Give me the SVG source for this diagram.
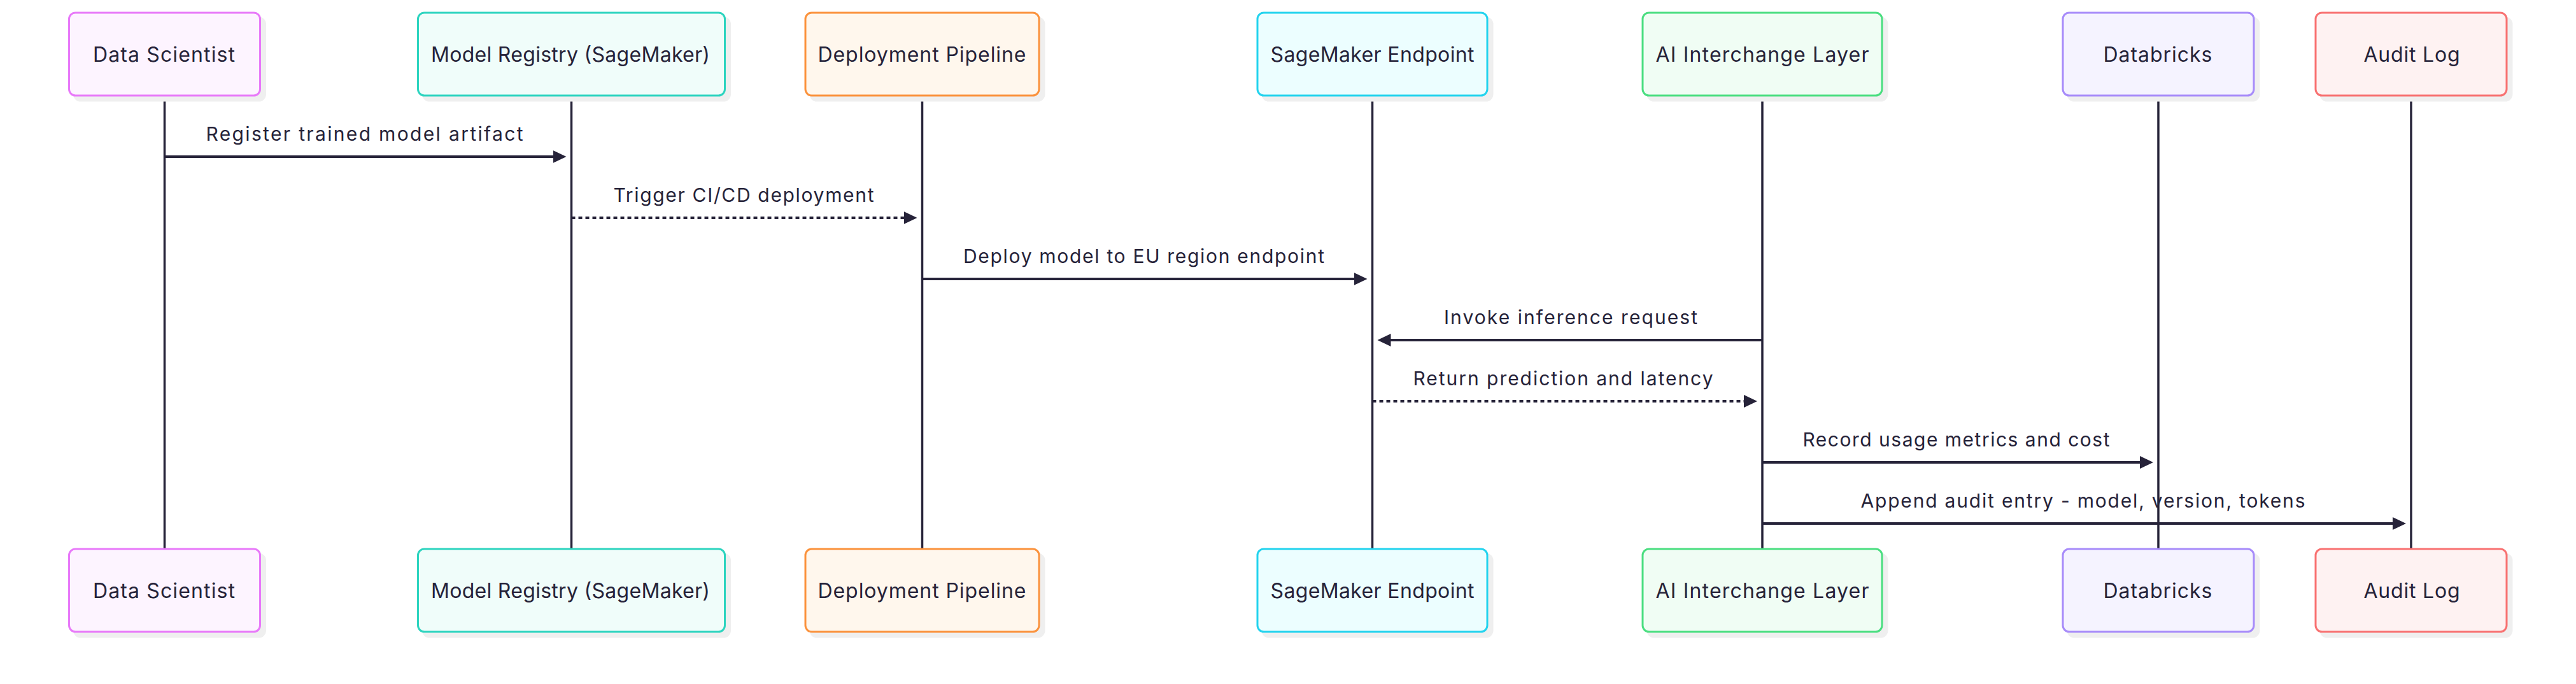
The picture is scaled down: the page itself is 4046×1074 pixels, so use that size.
<svg xmlns="http://www.w3.org/2000/svg" width="4046" height="1074" viewBox="0 0 4046 1074">
<style>
.bg{fill:#ffffff}
.shadow{fill:#efefef;stroke:#efefef;stroke-width:3}
.box{stroke-width:3}
.lbl{font-family:Inter,"Liberation Sans",sans-serif;font-size:32px;fill:#262339;text-anchor:middle}
.msg{font-family:Inter,"Liberation Sans",sans-serif;font-size:30px;fill:#262339;text-anchor:middle}
.life{stroke:#262339;stroke-width:3.5}
.arrow{stroke:#262339;stroke-width:4;fill:none;marker-end:url(#head)}
.dotted{stroke-dasharray:6 5}
.c1{fill:#fdf4ff;stroke:#e879f9}
.c2{fill:#f0fdfa;stroke:#2dd4bf}
.c3{fill:#fff7ed;stroke:#fb923c}
.c4{fill:#ecfeff;stroke:#22d3ee}
.c5{fill:#f0fdf4;stroke:#4ade80}
.c6{fill:#f5f3ff;stroke:#a78bfa}
.c7{fill:#fef2f2;stroke:#f87171}
</style>
<defs>
<marker id="head" markerUnits="userSpaceOnUse" markerWidth="22" markerHeight="22" refX="3" refY="10" orient="auto">
<path d="M0,0 L21,10 L0,20 z" fill="#262339"/>
</marker>
</defs>
<rect class="bg" x="0" y="0" width="4046" height="1074"/>
<g id="lifelines">
<line class="life" x1="258.5" y1="150" x2="258.5" y2="862"/>
<line class="life" x1="897.5" y1="150" x2="897.5" y2="862"/>
<line class="life" x1="1448.5" y1="150" x2="1448.5" y2="862"/>
<line class="life" x1="2155.5" y1="150" x2="2155.5" y2="862"/>
<line class="life" x1="2768" y1="150" x2="2768" y2="862"/>
<line class="life" x1="3390" y1="150" x2="3390" y2="862"/>
<line class="life" x1="3787" y1="150" x2="3787" y2="862"/>
</g>
<g id="node-data-scientist">
<rect class="shadow" x="116.5" y="28" width="300" height="130" rx="10"/>
<rect class="box c1" x="108.5" y="20" width="300" height="130" rx="10"/>
<text class="lbl" x="257.5" y="96.7" textLength="223">Data Scientist</text>
<rect class="shadow" x="116.5" y="870" width="300" height="130" rx="10"/>
<rect class="box c1" x="108.5" y="862" width="300" height="130" rx="10"/>
<text class="lbl" x="257.5" y="938.7" textLength="223">Data Scientist</text>
</g>
<g id="node-model-registry">
<rect class="shadow" x="664.5" y="28" width="482" height="130" rx="10"/>
<rect class="box c2" x="656.5" y="20" width="482" height="130" rx="10"/>
<text class="lbl" x="896" y="96.7" textLength="438">Model Registry (SageMaker)</text>
<rect class="shadow" x="664.5" y="870" width="482" height="130" rx="10"/>
<rect class="box c2" x="656.5" y="862" width="482" height="130" rx="10"/>
<text class="lbl" x="896" y="938.7" textLength="438">Model Registry (SageMaker)</text>
</g>
<g id="node-deployment-pipeline">
<rect class="shadow" x="1273" y="28" width="367" height="130" rx="10"/>
<rect class="box c3" x="1265" y="20" width="367" height="130" rx="10"/>
<text class="lbl" x="1448" y="96.7" textLength="327">Deployment Pipeline</text>
<rect class="shadow" x="1273" y="870" width="367" height="130" rx="10"/>
<rect class="box c3" x="1265" y="862" width="367" height="130" rx="10"/>
<text class="lbl" x="1448" y="938.7" textLength="327">Deployment Pipeline</text>
</g>
<g id="node-sagemaker-endpoint">
<rect class="shadow" x="1983" y="28" width="361" height="130" rx="10"/>
<rect class="box c4" x="1975" y="20" width="361" height="130" rx="10"/>
<text class="lbl" x="2155.5" y="96.7" textLength="320">SageMaker Endpoint</text>
<rect class="shadow" x="1983" y="870" width="361" height="130" rx="10"/>
<rect class="box c4" x="1975" y="862" width="361" height="130" rx="10"/>
<text class="lbl" x="2155.5" y="938.7" textLength="320">SageMaker Endpoint</text>
</g>
<g id="node-ai-interchange">
<rect class="shadow" x="2588" y="28" width="376" height="130" rx="10"/>
<rect class="box c5" x="2580" y="20" width="376" height="130" rx="10"/>
<text class="lbl" x="2768" y="96.7" textLength="335">AI Interchange Layer</text>
<rect class="shadow" x="2588" y="870" width="376" height="130" rx="10"/>
<rect class="box c5" x="2580" y="862" width="376" height="130" rx="10"/>
<text class="lbl" x="2768" y="938.7" textLength="335">AI Interchange Layer</text>
</g>
<g id="node-databricks">
<rect class="shadow" x="3248" y="28" width="300" height="130" rx="10"/>
<rect class="box c6" x="3240" y="20" width="300" height="130" rx="10"/>
<text class="lbl" x="3389" y="96.7" textLength="171">Databricks</text>
<rect class="shadow" x="3248" y="870" width="300" height="130" rx="10"/>
<rect class="box c6" x="3240" y="862" width="300" height="130" rx="10"/>
<text class="lbl" x="3389" y="938.7" textLength="171">Databricks</text>
</g>
<g id="node-audit-log">
<rect class="shadow" x="3645" y="28" width="300" height="130" rx="10"/>
<rect class="box c7" x="3637" y="20" width="300" height="130" rx="10"/>
<text class="lbl" x="3788" y="96.7" textLength="151">Audit Log</text>
<rect class="shadow" x="3645" y="870" width="300" height="130" rx="10"/>
<rect class="box c7" x="3637" y="862" width="300" height="130" rx="10"/>
<text class="lbl" x="3788" y="938.7" textLength="151">Audit Log</text>
</g>
<g id="connectors">
<line class="arrow" x1="258.5" y1="246" x2="871.5" y2="246"/>
<text class="msg" x="572.5" y="220.5" textLength="498">Register trained model artifact</text>
<line class="arrow dotted" x1="897.5" y1="342" x2="1422.5" y2="342"/>
<text class="msg" x="1168" y="316.5" textLength="409">Trigger CI/CD deployment</text>
<line class="arrow" x1="1448.5" y1="438" x2="2129.5" y2="438"/>
<text class="msg" x="1796.5" y="412.5" textLength="567">Deploy model to EU region endpoint</text>
<line class="arrow" x1="2768" y1="534" x2="2181.5" y2="534"/>
<text class="msg" x="2467" y="508.5" textLength="398">Invoke inference request</text>
<line class="arrow dotted" x1="2155.5" y1="630" x2="2742" y2="630"/>
<text class="msg" x="2455" y="604.5" textLength="471">Return prediction and latency</text>
<line class="arrow" x1="2768" y1="726" x2="3364" y2="726"/>
<text class="msg" x="3072.5" y="700.5" textLength="482">Record usage metrics and cost</text>
<line class="arrow" x1="2768" y1="822" x2="3761" y2="822"/>
<text class="msg" x="3271.5" y="796.5" textLength="698">Append audit entry - model, version, tokens</text>
</g>
</svg>
